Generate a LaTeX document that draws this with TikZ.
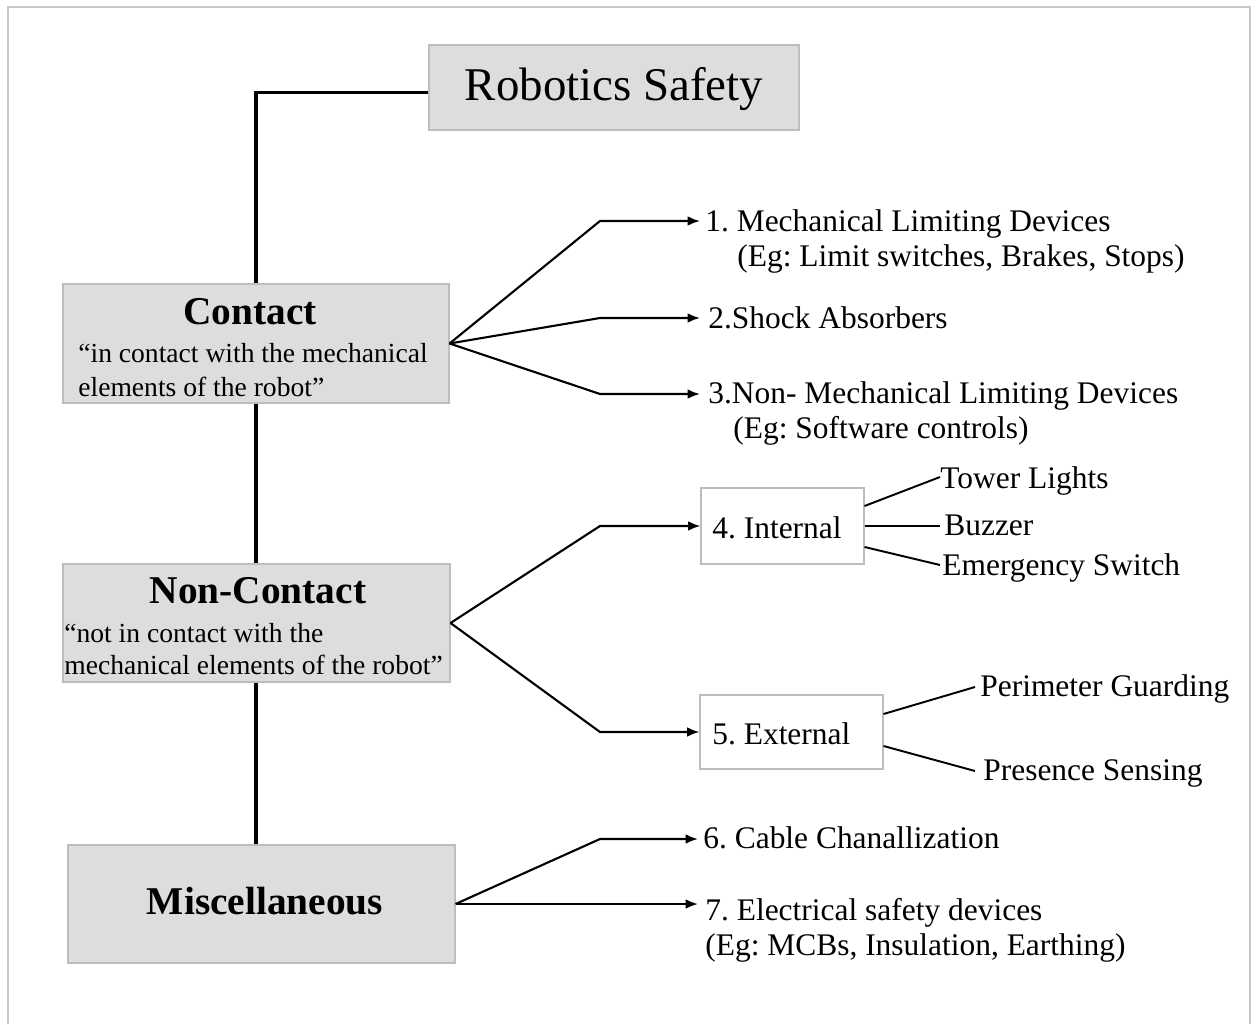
\documentclass[tikz,border=0pt]{standalone}
\usepackage{fontspec}
\setmainfont{Liberation Serif}
\usetikzlibrary{arrows.meta,calc,fit}
\definecolor{boxfill}{HTML}{DDDDDD}
\definecolor{boxedge}{HTML}{BDBDBD}
\definecolor{framec}{HTML}{C8C8C8}
\newcommand\myfs[1]{\fontsize{#1}{#1}\selectfont}
\frenchspacing
\begin{document}
\begin{tikzpicture}[x=0.02cm,y=-0.02cm,
 graybox/.style={draw=boxedge, fill=boxfill, line width=0.6pt, inner sep=0pt},
 whitebox/.style={draw=boxedge, fill=white, line width=0.6pt, inner sep=0pt},
 txt/.style={inner sep=0pt, anchor=base west},
 trunk/.style={line width=2pt, black},
 arr/.style={line width=1.2pt, -{Latex[length=7pt,width=5.5pt]}},
 twig/.style={line width=1.1pt},
 item/.style={txt, font=\myfs{17.9}},
 desc/.style={txt, font=\myfs{15.7}},
 head/.style={inner sep=0pt, anchor=base, font=\myfs{22.4}\bfseries},
]
\fill[white] (0,0) rectangle (1257,1024);
\useasboundingbox (0,0) rectangle (1257,1024);
\draw[framec, line width=0.6pt] (8,1024) -- (8,7) -- (1250,7) -- (1250,1024);

% boxes
\node[graybox, fit={(429,45) (799,130)}] (rs) {};
\node[graybox, fit={(63,284) (449,403)}] (contact) {};
\node[graybox, fit={(63,564) (450,682)}] (noncontact) {};
\node[graybox, fit={(68,845) (455,963)}] (misc) {};
\node[whitebox, fit={(701,488) (864,564)}] (internal) {};
\node[whitebox, fit={(700,695) (883,769)}] (external) {};

% box texts
\node[inner sep=0pt, anchor=base, font=\myfs{26.7}] (rst) at (614,101) {Robotics Safety};
\node[head] (ct) at (250,324) {Contact};
\node[desc] (cd1) at (78,362) {“in contact with the mechanical};
\node[desc] (cd2) at (78,396) {elements of the robot”};
\node[head] (nct) at (258,603) {Non-Contact};
\node[desc] (nd1) at (64,642) {“not in contact with the};
\node[desc] (nd2) at (64,674) {mechanical elements of the robot”};
\node[head] (mt) at (265,914) {Miscellaneous};
\node[item] (it) at (712,538) {4. Internal};
\node[item] (et) at (712,744) {5. External};

% item texts
\node[item] (i1) at (705,231) {1. Mechanical Limiting Devices};
\node[item] (i1b) at (737,266) {(Eg: Limit switches, Brakes, Stops)};
\node[item] (i2) at (708,328) {2.Shock Absorbers};
\node[item] (i3) at (708,403) {3.Non- Mechanical Limiting Devices};
\node[item] (i3b) at (733,438) {(Eg: Software controls)};
\node[item] (tl) at (940,488) {Tower Lights};
\node[item] (bz) at (944,535) {Buzzer};
\node[item] (es) at (942,575) {Emergency Switch};
\node[item] (pg) at (980,696) {Perimeter Guarding};
\node[item] (ps) at (983,780) {Presence Sensing};
\node[item] (i6) at (703,848) {6. Cable Chanallization};
\node[item] (i7) at (705,920) {7. Electrical safety devices};
\node[item] (i7b) at (705,955) {(Eg: MCBs, Insulation, Earthing)};

% coordinates
\coordinate (b1) at (600,221); \coordinate (e1) at (700,221);
\coordinate (b2) at (600,318); \coordinate (e2) at (700,318);
\coordinate (b3) at (600,394); \coordinate (e3) at (700,394);
\coordinate (b4) at (600,526);
\coordinate (b5) at (600,732);
\coordinate (b6) at (600,839); \coordinate (e6) at (698,839);
\coordinate (e7) at (698,904);

% trunk
\draw[trunk] ($(rs.west)+(0,5)$) -| (contact.north);
\draw[trunk] (contact.south) -- (contact.south |- noncontact.north);
\draw[trunk] (contact.south |- noncontact.south) -- (contact.south |- misc.north);

% arrows
\draw[arr] (contact.east) -- (b1) -- (e1);
\draw[arr] (contact.east) -- (b2) -- (e2);
\draw[arr] (contact.east) -- (b3) -- (e3);
\draw[arr] (noncontact.east) -- (b4) -- (internal.west);
\draw[arr] (noncontact.east) -- (b5) -- (external.west);
\draw[arr] (misc.east) -- (b6) -- (e6);
\draw[arr] (misc.east) -- (e7);

% twigs
\draw[twig] ($(internal.east)+(0,-20)$) -- ($(tl.base west)+(0,-11)$);
\draw[twig] (internal.east) -- ($(bz.base west)+(-4,-9)$);
\draw[twig] ($(internal.east)+(0,21)$) -- ($(es.base west)+(-2,-10)$);
\draw[twig] ($(external.east)+(0,-18)$) -- ($(pg.base west)+(-5,-9)$);
\draw[twig] ($(external.east)+(0,14)$) -- ($(ps.base west)+(-8,-9)$);
\end{tikzpicture}
\end{document}
